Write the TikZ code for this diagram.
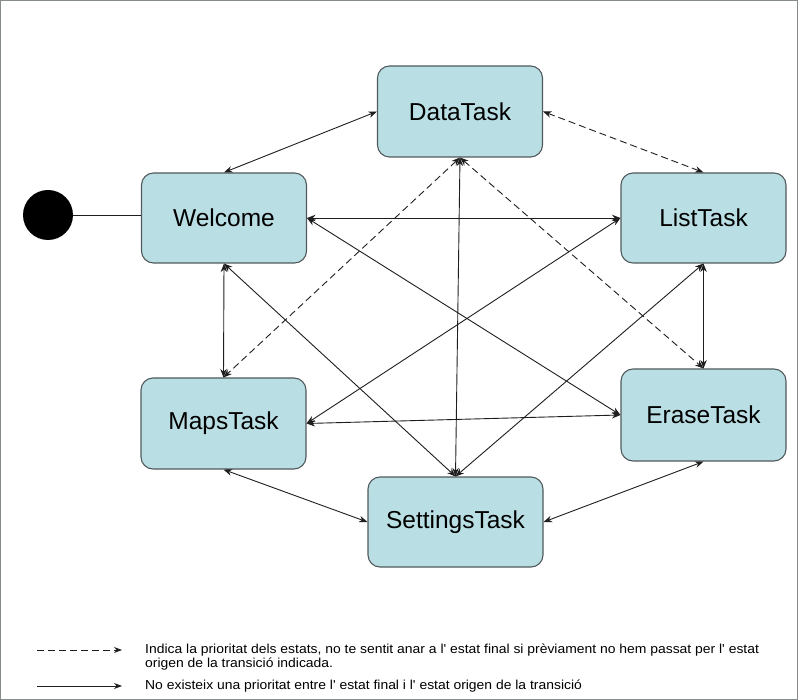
\documentclass[tikz,border=0pt]{standalone}
\usepackage{fontspec}
\setmainfont{Liberation Sans}
\newfontfamily\legendfont[FakeStretch=1.07]{Liberation Sans}
\usetikzlibrary{arrows.meta}
\definecolor{statefill}{RGB}{185,223,228}
\definecolor{stateedge}{RGB}{80,90,92}
\definecolor{wire}{RGB}{30,30,30}
\tikzset{
  state/.style={draw=stateedge, line width=1.1pt, fill=statefill,
    rounded corners=12pt, inner sep=0pt, minimum height=90pt,
    minimum width=165pt, font=\fontsize{24.5}{28}\selectfont},
  link/.style={wire, line width=0.9pt, {Stealth[length=8.5pt,width=6.5pt]}-{Stealth[length=8.5pt,width=6.5pt]}},
  prio/.style={link, dash pattern=on 7pt off 4pt},
  legendarrow/.style={wire, line width=0.9pt, -{Stealth[length=8pt,width=6pt]}},
  legendtext/.style={anchor=west, align=left, inner sep=0pt,
    font=\legendfont\fontsize{13}{14.5}\selectfont}
}
\begin{document}
\begin{tikzpicture}[x=1pt,y=-1pt]
  \useasboundingbox (0,0) rectangle (798,700);
  \draw[stateedge!70, line width=0.8pt] (0.5,0.5) rectangle (797.5,699.5);

  % states
  \node[state, minimum height=91pt] (data) at (460,111.5) {DataTask};
  \node[state] (welcome) at (224,218) {Welcome};
  \node[state] (list) at (703.5,218) {ListTask};
  \node[state, minimum height=91pt] (maps) at (223.5,423.5) {MapsTask};
  \node[state, minimum height=92pt] (erase) at (703.5,415) {EraseTask};
  \node[state, minimum width=175pt] (settings) at (455.5,522) {SettingsTask};

  % initial state
  \node[circle, fill=black, minimum size=50pt, inner sep=0pt] (init) at (48,215) {};
  \draw[wire, line width=0.9pt] (init.east) -- (init.east -| welcome.west);

  % transitions without priority
  \draw[link] (welcome.north) -- (data.west);
  \draw[link] (welcome.east) -- (list.west);
  \draw[link] (welcome.south) -- (maps.north);
  \draw[link] (welcome.east) -- (erase.west);
  \draw[link] (welcome.south) -- (settings.north);
  \draw[link] (data.south) -- (settings.north);
  \draw[link] (maps.east) -- (list.west);
  \draw[link] (maps.east) -- (erase.west);
  \draw[link] (maps.south) -- (settings.west);
  \draw[link] (list.south) -- (erase.north);
  \draw[link] (list.south) -- (settings.north);
  \draw[link] (settings.east) -- (erase.south);

  % transitions with priority
  \draw[prio] (data.east) -- (list.north);
  \draw[prio] (data.south) -- (maps.north);
  \draw[prio] (data.south) -- (erase.north);

  % legend
  \coordinate (da) at (37,650);
  \coordinate (db) at (122,650);
  \coordinate (sa) at (37,686);
  \coordinate (sb) at (122,686);
  \draw[legendarrow, dash pattern=on 7pt off 4pt] (da) -- (db);
  \draw[legendarrow] (sa) -- (sb);
  \node[legendtext] (prionote) at (145,657) {Indica la prioritat dels estats, no te sentit anar a l' estat final si prèviament no hem passat per l' estat\\origen de la transició indicada.};
  \node[legendtext] (freenote) at (145,686) {No existeix una prioritat entre l' estat final i l' estat origen de la transició};
\end{tikzpicture}
\end{document}
